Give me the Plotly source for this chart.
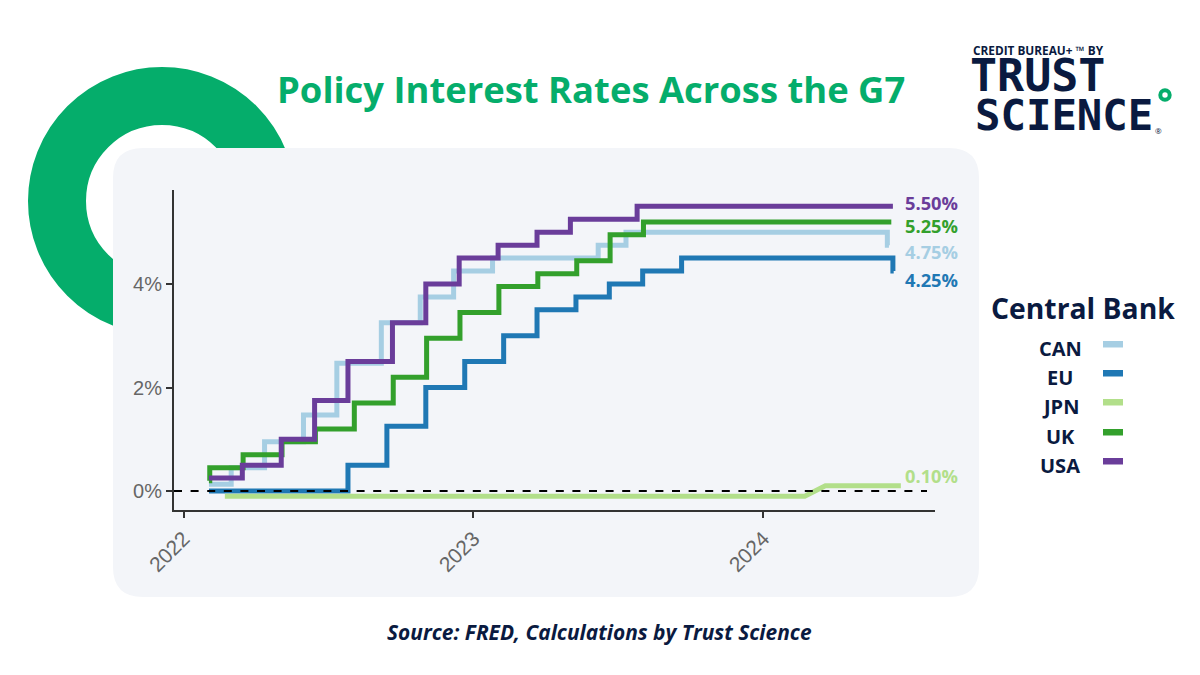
import plotly.graph_objects as go

can_dates = ['2022-02-02', '2022-03-02', '2022-04-13', '2022-06-01', '2022-07-13', '2022-09-07', '2022-10-26',
             '2022-12-07', '2023-01-25', '2023-06-07', '2023-07-12', '2024-06-05', '2024-06-07']
can_rates = [0.13, 0.45, 0.95, 1.47, 2.47, 3.25, 3.75, 4.25, 4.5, 4.75, 5.0, 4.75, 4.75]

eu_dates = ['2022-02-02', '2022-07-27', '2022-09-14', '2022-11-02', '2022-12-21', '2023-02-08', '2023-03-22',
            '2023-05-10', '2023-06-21', '2023-08-02', '2023-09-20', '2024-06-12', '2024-06-13']
eu_rates = [0.0, 0.5, 1.25, 2.0, 2.5, 3.0, 3.5, 3.75, 4.0, 4.25, 4.5, 4.25, 4.25]

jpn_dates = ['2022-02-22', '2024-02-22', '2024-03-19', '2024-06-22']
jpn_rates = [-0.1, -0.1, 0.1, 0.1]

uk_dates = ['2022-02-02', '2022-02-03', '2022-03-17', '2022-05-05', '2022-06-16', '2022-08-04', '2022-09-22',
            '2022-11-03', '2022-12-15', '2023-02-02', '2023-03-23', '2023-05-11', '2023-06-22', '2023-08-03',
            '2024-06-10']
uk_rates = [0.2, 0.45, 0.7, 0.95, 1.2, 1.7, 2.2, 2.95, 3.45, 3.95, 4.2, 4.45, 4.95, 5.2, 5.2]

usa_dates = ['2022-02-02', '2022-03-16', '2022-05-04', '2022-06-15', '2022-07-27', '2022-09-21', '2022-11-02',
             '2022-12-14', '2023-02-01', '2023-03-22', '2023-05-03', '2023-07-26', '2024-06-12']
usa_rates = [0.25, 0.5, 1.0, 1.75, 2.5, 3.25, 4.0, 4.5, 4.75, 5.0, 5.25, 5.5, 5.5]

banks = ['CAN', 'EU', 'JPN', 'UK', 'USA']
colors = ['#A6CEE3', '#1F78B4', '#B2DF8A', '#33A02C', '#6A3D9A']
end_labels = ['4.75%', '4.25%', '0.10%', '5.25%', '5.50%']
tick_years = ['2022-01-01', '2023-01-01', '2024-01-01']
tick_names = ['2022', '2023', '2024']
y_ticks = [0, 2, 4]
y_names = ['0%', '2%', '4%']

NAVY = '#0A1A40'
GREEN = '#05AD6B'
WIDTH, HEIGHT = 1200, 675


# Everything decorative is placed in page pixels, so convert them to paper coords
def px(x):
    return x / WIDTH


def py(y):
    return 1 - y / HEIGHT


def page_text(x, y, text, size, color, family='Open Sans', xanchor='center', angle=0):
    return dict(x=px(x), y=py(y), xref='paper', yref='paper', text=text, showarrow=False, xanchor=xanchor,
                yanchor='middle', textangle=angle, font=dict(family=family, size=size, color=color))


def circle(cx, cy, r, **kwargs):
    return dict(type='circle', xref='paper', yref='paper', x0=px(cx - r), x1=px(cx + r), y0=py(cy + r), y1=py(cy - r),
                **kwargs)


fig = go.Figure()

series = [(can_dates, can_rates), (eu_dates, eu_rates), (jpn_dates, jpn_rates), (uk_dates, uk_rates),
          (usa_dates, usa_rates)]
for i, (dates, rates) in enumerate(series):
    fig.add_trace(go.Scatter(
        x=dates,
        y=rates,
        name=banks[i],
        mode='lines',
        line=dict(color=colors[i], width=5, shape='linear' if banks[i] == 'JPN' else 'hv'),
    ))

shapes = [
    # Green ring behind the card
    circle(162, 201, 105, line=dict(color=GREEN, width=58), fillcolor='rgba(0,0,0,0)', layer='below'),
    # Rounded card behind the plot
    dict(type='path', xref='paper', yref='paper', layer='below', fillcolor='#F3F5F9', line=dict(width=0),
         path=f'M {px(143)} {py(148)} L {px(949)} {py(148)} Q {px(979)} {py(148)} {px(979)} {py(178)} '
              f'L {px(979)} {py(567)} Q {px(979)} {py(597)} {px(949)} {py(597)} '
              f'L {px(143)} {py(597)} Q {px(113)} {py(597)} {px(113)} {py(567)} '
              f'L {px(113)} {py(178)} Q {px(113)} {py(148)} {px(143)} {py(148)} Z'),
    # Zero line
    dict(type='line', xref='x domain', yref='y', x0=0, x1=0.9895, y0=0, y1=0,
         line=dict(color='black', width=2, dash='8px,8.6px'), layer='above'),
    # Logo dot
    circle(1165, 95, 4.7, line=dict(color=GREEN, width=4), fillcolor='white'),
]

annotations = [
    page_text(591, 89, '<b>Policy Interest Rates Across the G7</b>', 36.4, GREEN),
    page_text(599, 632, '<b><i>Source: FRED, Calculations by Trust Science</i></b>', 20.9, NAVY),
    page_text(1083, 308, '<b>Central Bank</b>', 28.3, NAVY),
    page_text(971, 50, '<b>CREDIT BUREAU+ ™ BY</b>', 11.8, NAVY, xanchor='left'),
    page_text(968, 75, '<b>TRUST</b>', 45, NAVY, family='DejaVu Sans Mono', xanchor='left'),
    page_text(972.5, 115, '<b>SCIENCE</b>', 42.3, NAVY, family='DejaVu Sans Mono', xanchor='left'),
    page_text(1158, 130, '®', 8, NAVY),
]

# End of line labels, nudged apart like the original
label_y = [252, 280, 475, 226, 202]
for i, lab in enumerate(end_labels):
    annotations.append(page_text(903, label_y[i], f'<b>{lab}</b>', 18.3, colors[i], xanchor='left'))

# Legend drawn by hand since the text sits left of the swatch
legend_y = [348, 377, 406, 436, 465]
for i, bank in enumerate(banks):
    annotations.append(page_text(1060, legend_y[i], f'<b>{bank}</b>', 20, NAVY))
    shapes.append(dict(type='rect', xref='paper', yref='paper', x0=px(1103), x1=px(1123), y0=py(legend_y[i] - 0.5),
                       y1=py(legend_y[i] - 7), fillcolor=colors[i], line=dict(width=0)))

fig.update_layout(
    width=WIDTH,
    height=HEIGHT,
    margin=dict(l=0, r=0, t=0, b=0, autoexpand=False),
    paper_bgcolor='white',
    plot_bgcolor='rgba(0,0,0,0)',
    showlegend=False,
    shapes=shapes,
    annotations=annotations,
)
fig.update_xaxes(domain=[px(174), px(935)], range=['2021-12-20', '2024-08-04'], type='date', tickvals=tick_years,
                 ticktext=tick_names, tickangle=-45, ticks='outside', ticklen=6, tickwidth=2, tickcolor='#333333',
                 showgrid=False, zeroline=False, showline=True, linecolor='#333333', linewidth=2,
                 tickfont=dict(family='Liberation Sans', size=21, color='#666666'))
fig.update_yaxes(domain=[py(510), py(190)], range=[-0.367, 5.816], tickvals=y_ticks, ticktext=y_names, ticks='outside',
                 ticklen=6, tickwidth=2, tickcolor='#333333', showgrid=False, zeroline=False, showline=True,
                 linecolor='#333333', linewidth=2, tickfont=dict(family='Liberation Sans', size=20, color='#666666'))

# The browser's default body margin would push the page 8px off
fig.write_html("out.html", config={'displayModeBar': False}, post_script="document.body.style.margin = '0';")
